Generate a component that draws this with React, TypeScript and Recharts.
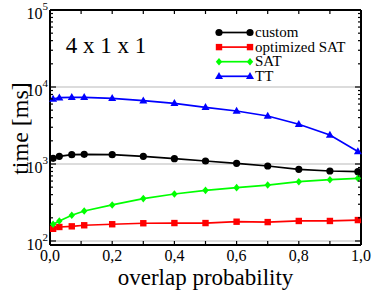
import React from 'react';
import { LineChart, Line, XAxis, YAxis, ReferenceLine, Legend, Customized } from 'recharts';

const FONT = 'Liberation Serif';

const xValues = [0.01, 0.03, 0.07, 0.11, 0.2, 0.3, 0.4, 0.5, 0.6, 0.7, 0.8, 0.9, 0.99];
const customTimes = [1186, 1259, 1321, 1337, 1321, 1259, 1172, 1094, 1021, 942, 853, 811, 794];
const optimizedSatTimes = [144, 152, 155, 160, 165, 170, 171, 171, 178, 176, 182, 182, 187];
const satTimes = [165, 182, 216, 245, 294, 355, 408, 455, 493, 533, 589, 625, 652];
const ttTimes = [6980, 7260, 7350, 7350, 7130, 6640, 6140, 5450, 4880, 4200, 3280, 2380, 1450];

const seriesKeys = ['custom', 'optimizedSAT', 'SAT', 'TT'];
const seriesNames = ['custom', 'optimized SAT', 'SAT', 'TT'];
const seriesColors = ['#000000', '#ff0000', '#00ff00', '#0000ff'];
const seriesShapes = ['circle', 'square', 'diamond', 'triangle'];

const xTickValues = [0, 0.1, 0.2, 0.3, 0.4, 0.5, 0.6, 0.7, 0.8, 0.9, 1.0];
const xTickLabels = ['0,0', '', '0,2', '', '0,4', '', '0,6', '', '0,8', '', '1,0'];
const yMajorTicks = [100, 1000, 10000, 100000];
const yMinorTicks = [
  200, 300, 400, 500, 600, 700, 800, 900,
  2000, 3000, 4000, 5000, 6000, 7000, 8000, 9000,
  20000, 30000, 40000, 50000, 60000, 70000, 80000, 90000,
];
const yAllTicks = [...yMajorTicks, ...yMinorTicks].sort((a, b) => a - b);
const yDomain = [88.7, 100000];
const gridValues = [100, 1000, 10000];
const panelTitle = '4 x 1 x 1';

const data = xValues.map((x, i) => ({
  x,
  custom: customTimes[i],
  optimizedSAT: optimizedSatTimes[i],
  SAT: satTimes[i],
  TT: ttTimes[i],
}));

const txt = (size: number): React.CSSProperties => ({ fontFamily: FONT, fontSize: size });

function Marker({ shape, cx, cy, color }: any) {
  if (cx == null || cy == null) return null;
  switch (shape) {
    case 'circle':
      return <circle cx={cx} cy={cy} r={3.6} fill={color} />;
    case 'square':
      return <rect x={cx - 3.2} y={cy - 3.2} width={6.4} height={6.4} fill={color} />;
    case 'diamond':
      return <polygon points={`${cx},${cy - 3.8} ${cx + 3.2},${cy} ${cx},${cy + 3.8} ${cx - 3.2},${cy}`} fill={color} />;
    default:
      return <polygon points={`${cx},${cy - 4.2} ${cx + 4},${cy + 2.8} ${cx - 4},${cy + 2.8}`} fill={color} />;
  }
}

const LeftTick = (props: any) => {
  const { x, y, payload } = props;
  const v = payload.value;
  const major = yMajorTicks.includes(v);
  const exp = Math.round(Math.log10(v));
  return (
    <g>
      <line x1={x} x2={x + (major ? 6 : 3)} y1={y} y2={y} stroke="#000" strokeWidth={1.2} />
      {major && (
        <text x={x - 2} y={y + 9} textAnchor="end" style={txt(16)} fill="#000">
          <tspan>10</tspan>
          <tspan dy={-9} style={txt(11)}>{exp}</tspan>
        </text>
      )}
    </g>
  );
};

const RightTick = (props: any) => {
  const { x, y, payload } = props;
  const major = yMajorTicks.includes(payload.value);
  return <line x1={x} x2={x - (major ? 6 : 3)} y1={y} y2={y} stroke="#000" strokeWidth={1.2} />;
};

const BottomTick = (props: any) => {
  const { x, y, index } = props;
  const label = xTickLabels[index];
  return (
    <g>
      <line x1={x} x2={x} y1={y} y2={y - 4} stroke="#000" strokeWidth={1.2} />
      {label && (
        <text x={x} y={y + 16} textAnchor="middle" style={txt(16)} fill="#000">
          {label}
        </text>
      )}
    </g>
  );
};

const TopTick = (props: any) => {
  const { x, y } = props;
  return <line x1={x} x2={x} y1={y} y2={y + 4} stroke="#000" strokeWidth={1.2} />;
};

const LegendContent = () => (
  <svg width={150} height={64} style={{ display: 'block', overflow: 'visible' }}>
    {seriesNames.map((n, i) => {
      const y = 7.5 + i * 14.6;
      const c = seriesColors[i];
      return (
        <g key={n}>
          <line x1={4} x2={35} y1={y} y2={y} stroke={c} strokeWidth={1.7} />
          <Marker shape={seriesShapes[i]} cx={4} cy={y} color={c} />
          <Marker shape={seriesShapes[i]} cx={35} cy={y} color={c} />
          <text x={40} y={y + 4.5} style={txt(15)} fill="#000">{n}</text>
        </g>
      );
    })}
  </svg>
);

export default function App() {
  return (
    <div style={{ position: 'absolute', left: 0, top: 0 }}>
      <LineChart width={374} height={292} data={data} margin={{ top: 0, right: 0, bottom: 0, left: 0 }}>
        <XAxis
          xAxisId="bottom"
          dataKey="x"
          type="number"
          domain={[0, 1]}
          ticks={xTickValues}
          interval={0}
          height={47}
          tickSize={0}
          tickMargin={0}
          tickLine={false}
          tick={<BottomTick />}
          axisLine={{ stroke: '#000', strokeWidth: 2 }}
          label={(p: any) => {
            const vb = p.viewBox;
            return (
              <text x={vb.x + vb.width / 2} y={vb.y + 40} textAnchor="middle" style={txt(23)} fill="#000">
                overlap probability
              </text>
            );
          }}
        />
        <XAxis
          xAxisId="top"
          orientation="top"
          dataKey="x"
          type="number"
          domain={[0, 1]}
          ticks={xTickValues}
          interval={0}
          height={10}
          tickSize={0}
          tickMargin={0}
          tickLine={false}
          tick={<TopTick />}
          axisLine={{ stroke: '#000', strokeWidth: 2 }}
        />
        <YAxis
          yAxisId="left"
          type="number"
          scale="log"
          domain={yDomain}
          allowDataOverflow
          ticks={yAllTicks}
          interval={0}
          width={50}
          tickSize={0}
          tickMargin={0}
          tickLine={false}
          tick={<LeftTick />}
          axisLine={{ stroke: '#000', strokeWidth: 2 }}
          label={(p: any) => {
            const vb = p.viewBox;
            const cx = vb.x + 28;
            const cy = vb.y + vb.height / 2 + 1;
            return (
              <text x={cx} y={cy} transform={`rotate(-90, ${cx}, ${cy})`} textAnchor="middle" style={txt(24)} fill="#000">
                time [ms]
              </text>
            );
          }}
        />
        <YAxis
          yAxisId="right"
          orientation="right"
          type="number"
          scale="log"
          domain={yDomain}
          allowDataOverflow
          ticks={yAllTicks}
          interval={0}
          width={13}
          tickSize={0}
          tickMargin={0}
          tickLine={false}
          tick={<RightTick />}
          axisLine={{ stroke: '#000', strokeWidth: 2 }}
        />
        {gridValues.map((g) => (
          <ReferenceLine key={g} y={g} xAxisId="bottom" yAxisId="left" stroke="#dcdcdc" strokeWidth={2} />
        ))}
        {seriesKeys.map((k, i) => (
          <Line
            key={k}
            xAxisId="bottom"
            yAxisId="left"
            dataKey={k}
            name={seriesNames[i]}
            stroke={seriesColors[i]}
            strokeWidth={1.7}
            isAnimationActive={false}
            dot={(p: any) => <Marker key={`${k}-${p.index}`} shape={seriesShapes[i]} cx={p.cx} cy={p.cy} color={seriesColors[i]} />}
            activeDot={false}
          />
        ))}
        <Legend
          layout="horizontal"
          align="center"
          verticalAlign="middle"
          content={<LegendContent />}
          wrapperStyle={{ left: 215, top: 25, width: 150, height: 64 }}
        />
        <Customized
          component={() => (
            <text x={106} y={53} textAnchor="middle" style={txt(23)} fill="#000">
              {panelTitle}
            </text>
          )}
        />
      </LineChart>
    </div>
  );
}
